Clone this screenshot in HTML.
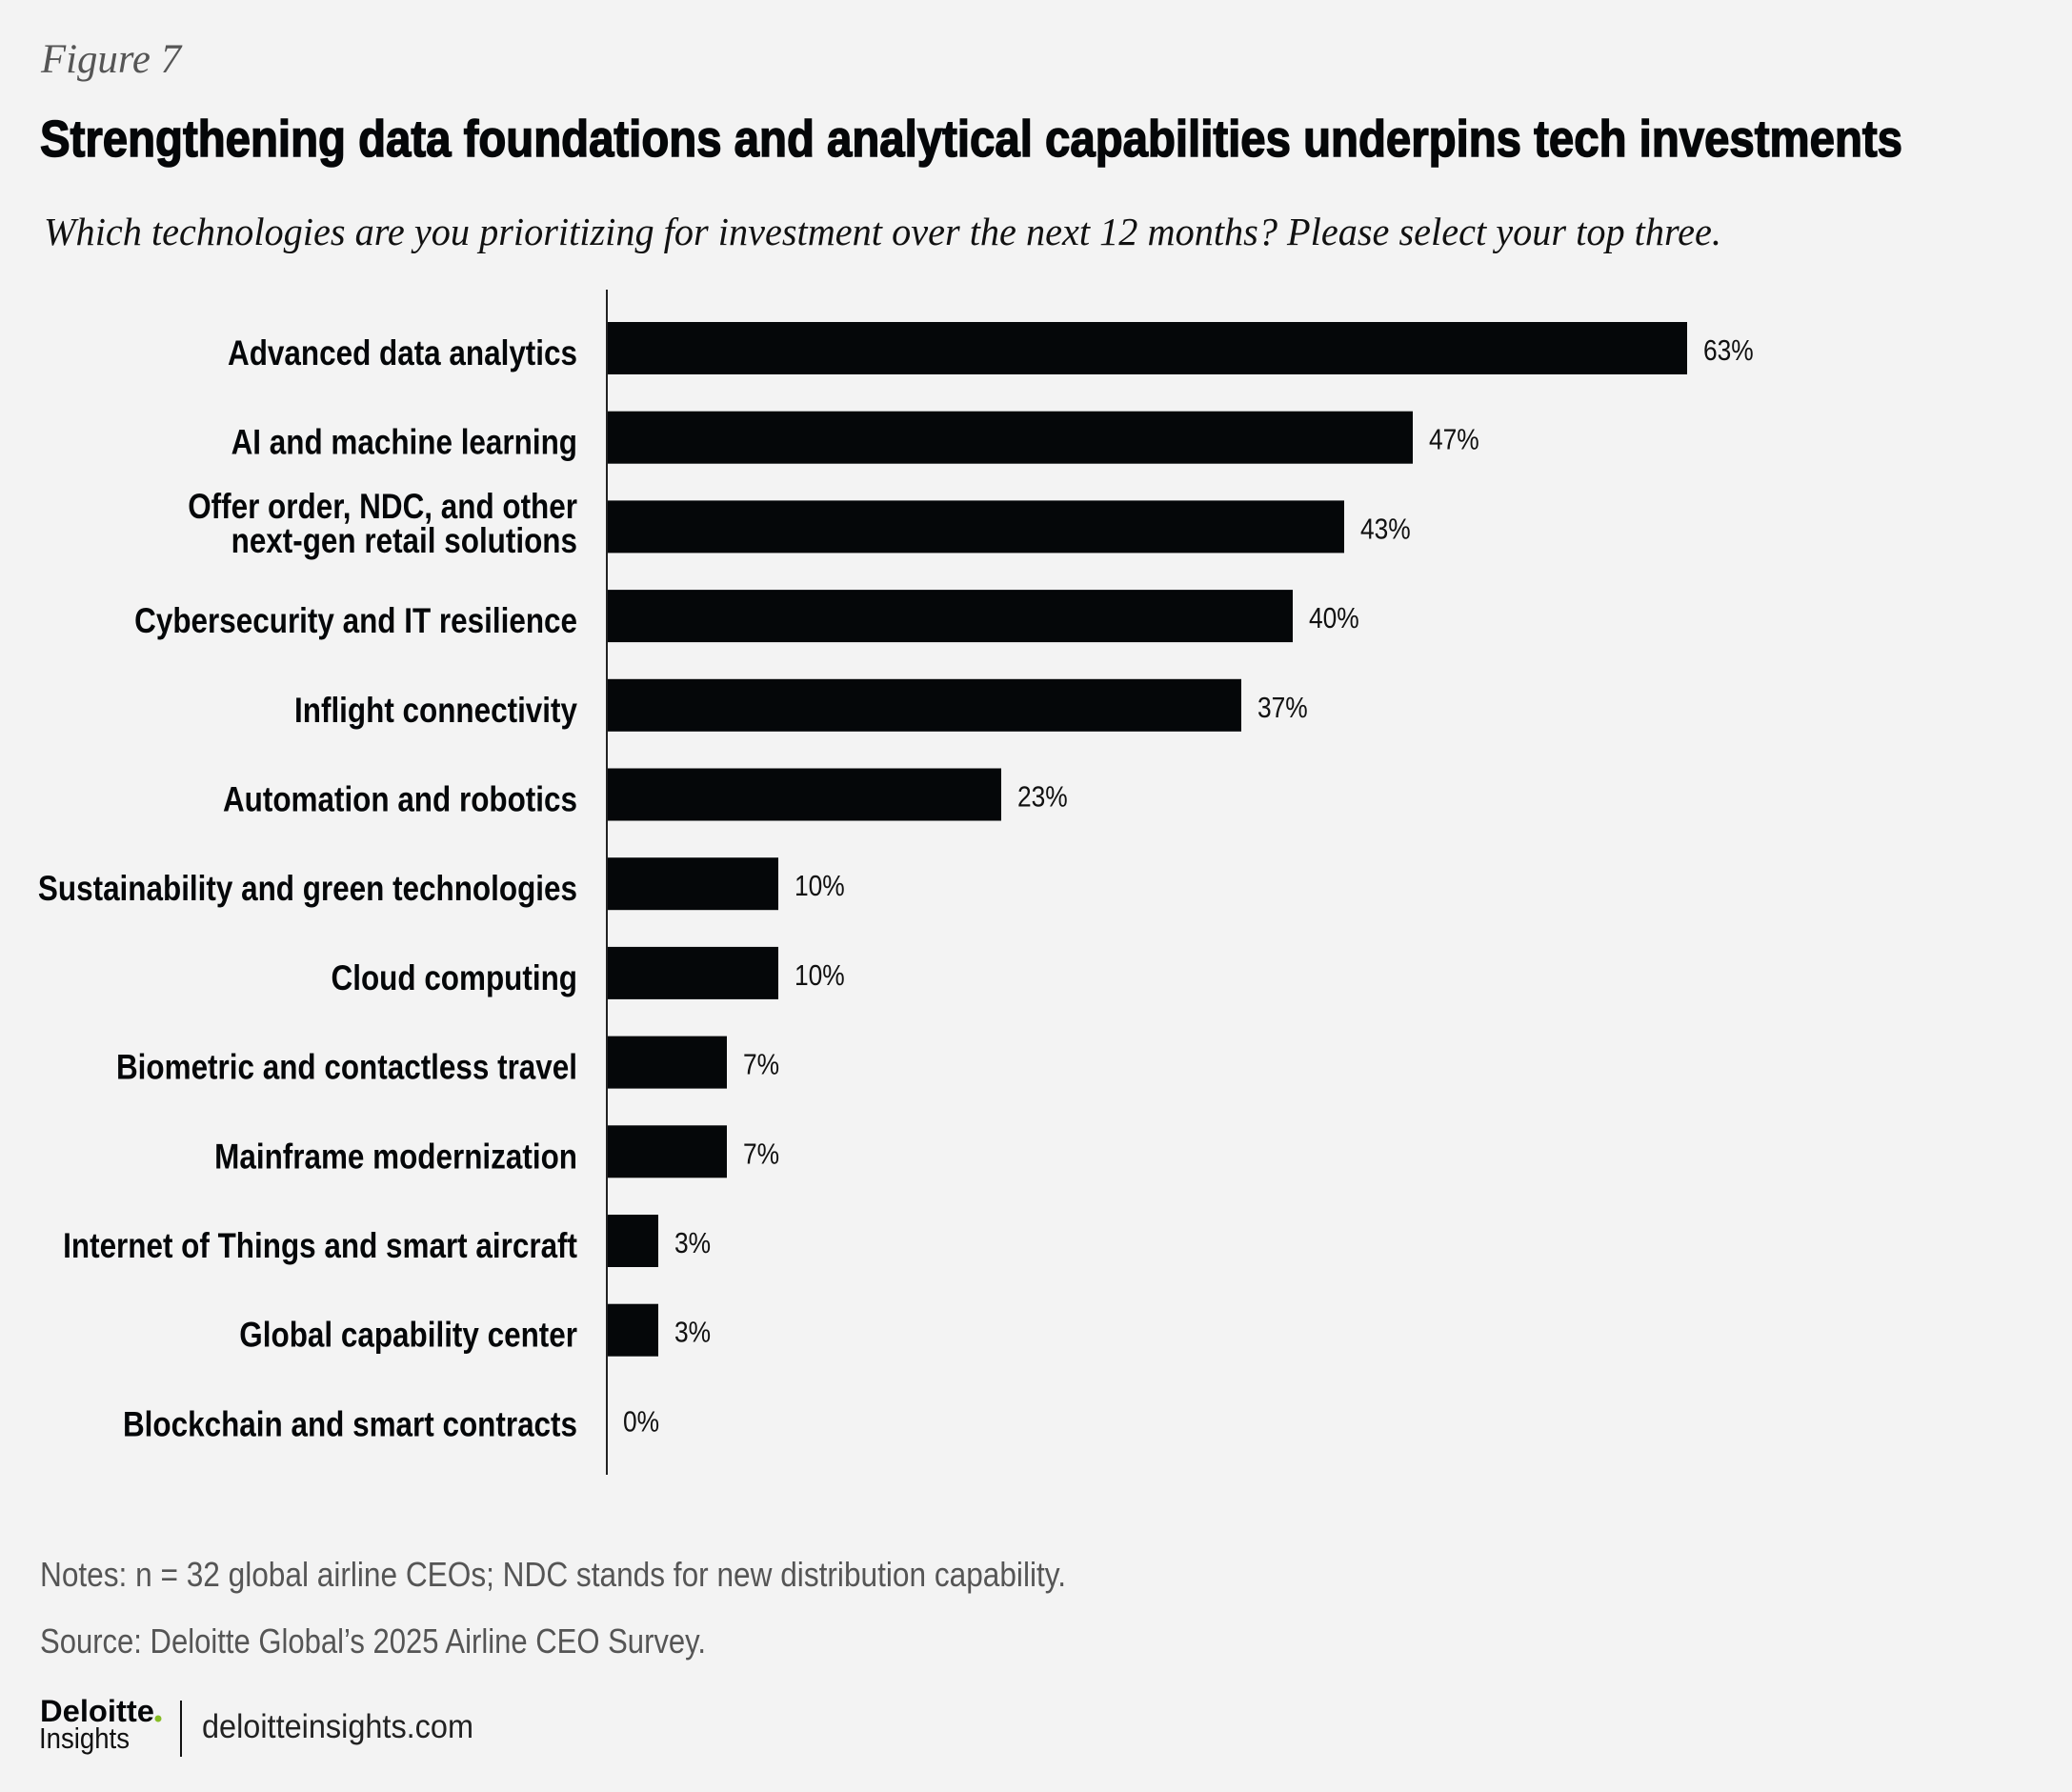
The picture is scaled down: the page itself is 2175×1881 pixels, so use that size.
<!DOCTYPE html>
<html><head><meta charset="utf-8"><style>
html,body{margin:0;padding:0;background:#f3f3f3;}
svg{display:block;}
.lbl{font-family:"Liberation Sans Narrow","Liberation Sans",sans-serif;font-weight:bold;font-size:37px;fill:#050709;}
.val{font-family:"Liberation Sans Narrow","Liberation Sans",sans-serif;font-size:31px;fill:#111;}
</style></head><body>
<svg id="chart" width="2175" height="1881" viewBox="0 0 2175 1881" xmlns="http://www.w3.org/2000/svg">
<rect width="2175" height="1881" fill="#f3f3f3"/>
<text x="43" y="76" font-family="Liberation Serif, serif" font-style="italic" font-size="43" fill="#555" textLength="147" lengthAdjust="spacingAndGlyphs">Figure 7</text>
<text x="42" y="164" font-family="Liberation Sans Narrow, Liberation Sans, sans-serif" font-weight="bold" font-size="54" fill="#050709" stroke="#050709" stroke-width="1.5" textLength="1955" lengthAdjust="spacingAndGlyphs">Strengthening data foundations and analytical capabilities underpins tech investments</text>
<text x="46" y="257" font-family="Liberation Serif, serif" font-style="italic" font-size="41" fill="#111" textLength="1761" lengthAdjust="spacingAndGlyphs">Which technologies are you prioritizing for investment over the next 12 months? Please select your top three.</text>
<g id="bars"></g>
<line x1="637" y1="304" x2="637" y2="1548" stroke="#222" stroke-width="2"/>
<text x="42" y="1665" font-family="Liberation Sans Narrow, Liberation Sans, sans-serif" font-size="36" fill="#555" textLength="1077" lengthAdjust="spacingAndGlyphs">Notes: n = 32 global airline CEOs; NDC stands for new distribution capability.</text>
<text x="42" y="1735" font-family="Liberation Sans Narrow, Liberation Sans, sans-serif" font-size="36" fill="#555" textLength="699" lengthAdjust="spacingAndGlyphs">Source: Deloitte Global’s 2025 Airline CEO Survey.</text>
<text x="42" y="1807" font-family="Liberation Sans Narrow, Liberation Sans, sans-serif" font-weight="bold" font-size="32" fill="#050709" textLength="120" lengthAdjust="spacingAndGlyphs">Deloitte</text>
<circle cx="166" cy="1804" r="3.5" fill="#86bc25"/>
<text x="41" y="1835" font-family="Liberation Sans Narrow, Liberation Sans, sans-serif" font-size="31" fill="#111" textLength="95" lengthAdjust="spacingAndGlyphs">Insights</text>
<line x1="190" y1="1785" x2="190" y2="1844" stroke="#111" stroke-width="2"/>
<text x="212" y="1824" font-family="Liberation Sans Narrow, Liberation Sans, sans-serif" font-size="35" fill="#222" textLength="285" lengthAdjust="spacingAndGlyphs">deloitteinsights.com</text>
</svg>
<script>
const categories = [
 ["Advanced data analytics"],
 ["AI and machine learning"],
 ["Offer order, NDC, and other","next-gen retail solutions"],
 ["Cybersecurity and IT resilience"],
 ["Inflight connectivity"],
 ["Automation and robotics"],
 ["Sustainability and green technologies"],
 ["Cloud computing"],
 ["Biometric and contactless travel"],
 ["Mainframe modernization"],
 ["Internet of Things and smart aircraft"],
 ["Global capability center"],
 ["Blockchain and smart contracts"]
];
const values = [63,47,43,40,37,23,10,10,7,7,3,3,0];
const valueLabels = ["63%","47%","43%","40%","37%","23%","10%","10%","7%","7%","3%","3%","0%"];

const NS = "http://www.w3.org/2000/svg";
const x0 = 637, pxPerPct = 18.0;
const y0 = 365.5, step = 93.7, barH = 55;
const squeeze = 0.85;
function xScale(v){ return x0 + v * pxPerPct; }
function yCenter(i){ return y0 + i * step; }
const g = document.getElementById('bars');
values.forEach((v,i)=>{
  const cy = yCenter(i);
  const r = document.createElementNS(NS,'rect');
  r.setAttribute('x', x0);
  r.setAttribute('y', cy - barH/2);
  r.setAttribute('width', Math.max(0, xScale(v) - x0));
  r.setAttribute('height', barH);
  r.setAttribute('fill', '#050709');
  
  
  g.appendChild(r);
  const t = document.createElementNS(NS,'text');
  t.setAttribute('x', 0);
  t.setAttribute('y', 0);
  t.setAttribute('transform', 'translate(' + (xScale(v) + 17) + ',' + (cy + 12.5) + ') scale(' + squeeze + ',1)');
  t.setAttribute('class', 'val');
  t.textContent = valueLabels[i];
  
  
  g.appendChild(t);
  const lines = categories[i];
  lines.forEach((ln,j)=>{
    const c = document.createElementNS(NS,'text');
    const by = lines.length === 1 ? cy + 17.5 : cy - 9 + j * 36;
    c.setAttribute('x', 0);
    c.setAttribute('y', 0);
    c.setAttribute('transform', 'translate(606,' + by + ') scale(' + squeeze + ',1)');
    c.setAttribute('text-anchor', 'end');
    c.setAttribute('class', 'lbl');
    c.textContent = ln;
    
    
    g.appendChild(c);
  });
});
</script>
</body></html>
